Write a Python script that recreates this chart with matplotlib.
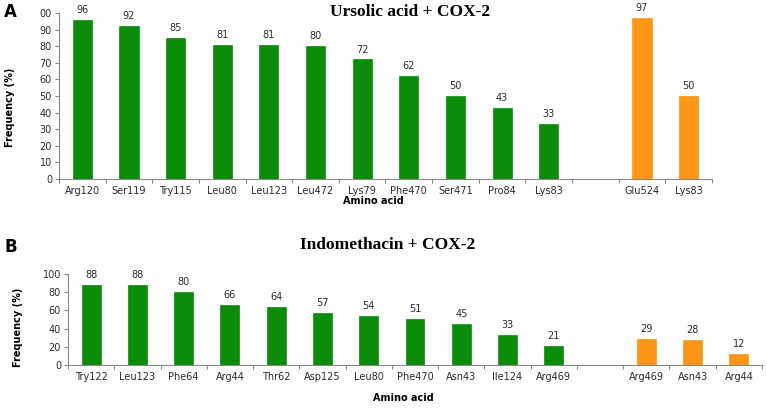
import matplotlib
matplotlib.use("Agg")
import matplotlib.pyplot as plt
import numpy as np

# Panel A data
a_green_labels = ["Arg120", "Ser119", "Try115", "Leu80", "Leu123", "Leu472",
                  "Lys79", "Phe470", "Ser471", "Pro84", "Lys83"]
a_green_values = [96, 92, 85, 81, 81, 80, 72, 62, 50, 43, 33]
a_orange_labels = ["Glu524", "Lys83"]
a_orange_values = [97, 50]
a_yticks = [0, 10, 20, 30, 40, 50, 60, 70, 80, 90, 100]
a_yticklabels = ["0", "10", "20", "30", "40", "50", "60", "70", "80", "90", "00"]

# Panel B data
b_green_labels = ["Try122", "Leu123", "Phe64", "Arg44", "Thr62", "Asp125",
                  "Leu80", "Phe470", "Asn43", "Ile124", "Arg469"]
b_green_values = [88, 88, 80, 66, 64, 57, 54, 51, 45, 33, 21]
b_orange_labels = ["Arg469", "Asn43", "Arg44"]
b_orange_values = [29, 28, 12]
b_yticks = [0, 20, 40, 60, 80, 100]
b_yticklabels = ["0", "20", "40", "60", "80", "100"]

GREEN = "#0a8c0a"
ORANGE = "#fb9617"
GRAY = "#888888"
TXT = "#2a2a2a"

fig = plt.figure(figsize=(7.67, 4.08), dpi=100)


def draw(ax, gl, gv, ol, ov, yt, ytl):
    labels = gl + [""] + ol
    n = len(labels)
    gx = np.arange(len(gl))
    ox = np.arange(len(gl) + 1, n)
    for xs, vs, c in ((gx, gv, GREEN), (ox, ov, ORANGE)):
        ax.bar(xs, vs, width=0.41, color=c, edgecolor=c, linewidth=0.5)
        for x, v in zip(xs, vs):
            ax.annotate(str(v), (x, v), xytext=(0, 3.5), textcoords="offset points",
                        ha="center", va="bottom", fontsize=7, color=TXT,
                        annotation_clip=False)
    ax.set_xlim(-0.5, n - 0.5)
    ax.set_ylim(0, 100)
    ax.set_xticks(np.arange(-0.5, n, 1.0))
    ax.set_xticklabels([])
    ax.set_xticks(np.arange(n), minor=True)
    ax.set_xticklabels(labels, minor=True, fontsize=7, color=TXT)
    ax.tick_params(axis="x", which="major", length=3, color=GRAY, direction="out")
    ax.tick_params(axis="x", which="minor", length=0, pad=5)
    ax.set_yticks(yt)
    ax.set_yticklabels(ytl, fontsize=7, color=TXT)
    ax.tick_params(axis="y", length=3, color=GRAY, direction="out", pad=2)
    for s in ("top", "right"):
        ax.spines[s].set_visible(False)
    for s in ("left", "bottom"):
        ax.spines[s].set_color(GRAY)
        ax.spines[s].set_linewidth(0.8)


axA = fig.add_axes([59 / 767, 1 - 179 / 408, (712 - 59) / 767, (179 - 13) / 408])
draw(axA, a_green_labels, a_green_values, a_orange_labels, a_orange_values,
     a_yticks, a_yticklabels)
axB = fig.add_axes([68 / 767, 1 - 365 / 408, (762 - 68) / 767, (365 - 274) / 408])
draw(axB, b_green_labels, b_green_values, b_orange_labels, b_orange_values,
     b_yticks, b_yticklabels)


def ftext(x, y, s, **kw):
    fig.text(x / 767, 1 - y / 408, s, **kw)


ftext(410, 12, "Ursolic acid + COX-2", ha="center", va="center",
      fontsize=12.5, fontweight="bold", family="Liberation Serif")
ftext(388, 245, "Indomethacin + COX-2", ha="center", va="center",
      fontsize=12.5, fontweight="bold", family="Liberation Serif")
ftext(4, 12, "A", ha="left", va="center", fontsize=12, fontweight="bold")
ftext(4, 247, "B", ha="left", va="center", fontsize=12, fontweight="bold")
ftext(10, 107, "Frequency (%)", ha="center", va="center", rotation=90,
      fontsize=7, fontweight="bold")
ftext(18, 327, "Frequency (%)", ha="center", va="center", rotation=90,
      fontsize=7, fontweight="bold")
ftext(373, 201, "Amino acid", ha="center", va="center", fontsize=7,
      fontweight="bold")
ftext(403, 398, "Amino acid", ha="center", va="center", fontsize=7,
      fontweight="bold")

fig.savefig("out.png", dpi=100)
